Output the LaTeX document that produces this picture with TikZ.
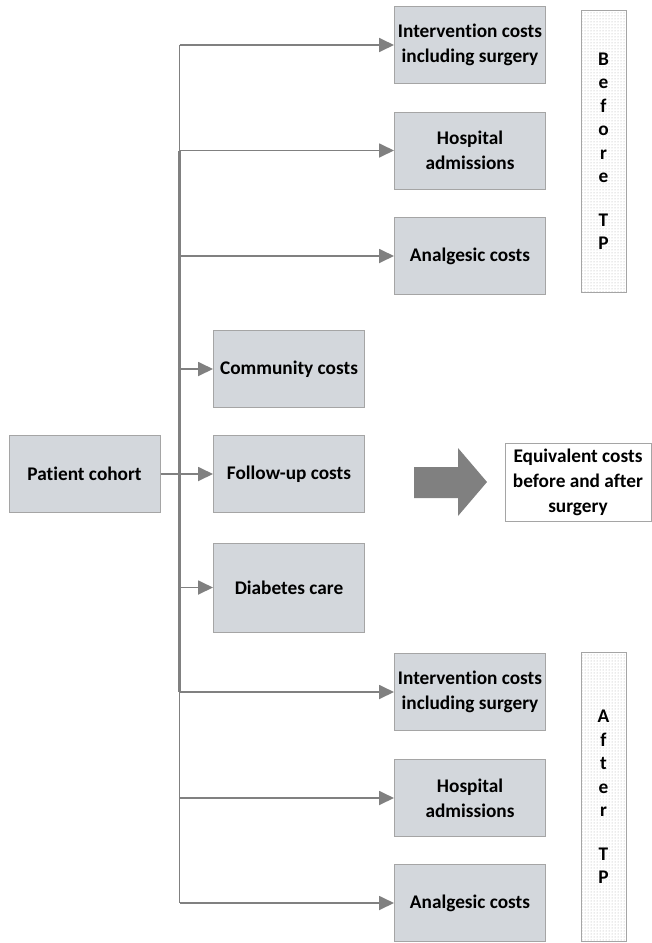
\documentclass[tikz,border=0pt]{standalone}
\usepackage{fontspec}
\setmainfont{Carlito}[Ligatures={NoCommon}]
\usetikzlibrary{arrows.meta,patterns}
\definecolor{boxfill}{HTML}{D3D7DC}
\definecolor{boxline}{HTML}{A5A5A5}
\definecolor{linegray}{HTML}{808080}
\begin{document}
\begin{tikzpicture}[x=1pt,y=-1pt,
  box/.style={draw=boxline,line width=1pt,fill=boxfill,minimum width=151pt,minimum height=77pt,
    inner sep=0pt,align=center,font=\fontsize{19.3}{25}\selectfont\bfseries},
  conn/.style={draw=linegray,line width=1.8pt,-{Triangle[length=15pt,width=14pt]}},
  trunk/.style={draw=linegray,line width=1.8pt},
  tpbox/.style={draw=boxline,line width=1pt,pattern=dots,pattern color=gray!65,minimum width=45pt,
    inner sep=0pt,align=center,font=\fontsize{19.3}{23.5}\selectfont\bfseries}]
\useasboundingbox (0,0) rectangle (651,943);
\fill[white] (0,0) rectangle (651,943);
% boxes
\node[box] (i1) at (470,45) {Intervention costs\\including surgery};
\node[box] (h1) at (470,150.5) {Hospital\\admissions};
\node[box] (a1) at (470,256) {Analgesic costs};
\node[box] (cc) at (289,369) {Community costs};
\node[box] (fu) at (289,474) {Follow-up costs};
\node[box,minimum height=89pt] (dc) at (289,587.5) {Diabetes care};
\node[box] (pc) at (84.5,474) {Patient cohort};
\node[box] (i2) at (470,692) {Intervention costs\\including surgery};
\node[box] (h2) at (470,798) {Hospital\\admissions};
\node[box] (a2) at (470,903) {Analgesic costs};
% side boxes
\node[tpbox,minimum height=282pt] (bf) at (603.5,151) {B\\e\\f\\o\\r\\e\\[20pt]T\\P};
\node[tpbox,minimum height=289pt] (af) at (603.5,797) {A\\f\\t\\e\\r\\[20pt]T\\P};
\node[draw=boxline,line width=1pt,fill=white,minimum width=146pt,minimum height=78pt,inner sep=0pt,
  align=center,font=\fontsize{19.3}{25}\selectfont\bfseries] (eq) at (578,482) {Equivalent costs\\before and after\\surgery};
% big arrow
\fill[linegray] (414,467) -- (458,467) -- (458,448) -- (487,482) -- (458,516) -- (458,498) -- (414,498) -- cycle;
% trunk
\coordinate (t) at (179.5,0);
\draw[trunk] (t |- i1.west) -- (t |- a2.west);
\draw[draw=linegray,line width=3pt] (t |- h1.west) -- (t |- i2.west);
% branches
\foreach \n in {i1,h1,a1,cc,fu,dc,i2,h2,a2} {
  \draw[conn] (t |- \n.west) -- (\n.west);
}
\draw[trunk] (pc.east) -- (t |- pc.east);
\end{tikzpicture}
\end{document}
